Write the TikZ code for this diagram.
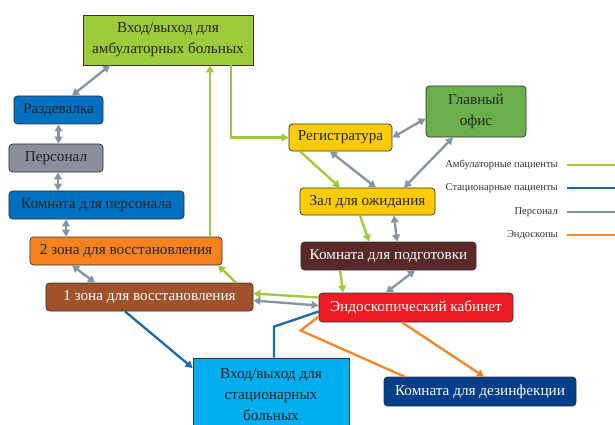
\documentclass[tikz,border=0pt]{standalone}
\usepackage{fontspec}
\setmainfont{Liberation Serif}
\usepackage{tikz}
\usetikzlibrary{arrows.meta, calc}
\definecolor{kamb}{HTML}{9DCB3A}
\definecolor{koffice}{HTML}{6AAF4A}
\definecolor{kblue}{HTML}{0070C0}
\definecolor{kgraybox}{HTML}{8A8E9C}
\definecolor{korange}{HTML}{F5821F}
\definecolor{kbrown}{HTML}{A0522D}
\definecolor{kcyan}{HTML}{00AEEF}
\definecolor{kyellow}{HTML}{FFCC00}
\definecolor{kdarkbrown}{HTML}{5A2828}
\definecolor{kred}{HTML}{ED1C24}
\definecolor{knavy}{HTML}{003E8A}
\definecolor{kgray}{HTML}{8496A2}
\definecolor{kstat}{HTML}{1B6CA2}
\definecolor{kendo}{HTML}{F7862A}

\tikzset{
  box/.style={draw=black!80, line width=0.6pt, rounded corners=3pt, align=center,
    inner sep=0pt, font=\fontsize{13}{18}\selectfont, text=black!85},
  gate/.style={box, rounded corners=0pt},
  lighttext/.style={text=white},
  persline/.style={draw=kgray, line width=2pt,
    {Triangle[length=6pt,width=6.5pt]}-{Triangle[length=6pt,width=6.5pt]}},
  ambline/.style={draw=kamb, line width=2pt, -{Triangle[length=6pt,width=6.5pt]}},
  statline/.style={draw=kstat, line width=2pt},
  endoline/.style={draw=kendo, line width=2pt},
  legtext/.style={anchor=east, inner sep=0pt, font=\fontsize{9}{10}\selectfont, text=black!80}
}

\begin{document}
\begin{tikzpicture}[x=0.03cm, y=-0.03cm]
\useasboundingbox (0,0) rectangle (615,425);
\node[gate, fill=kamb, minimum width=5.10cm, minimum height=1.50cm] (entA) at (168,40)
  {Вход/выход для\\амбулаторных больных};
\node[box, fill=kblue, minimum width=2.67cm, minimum height=0.84cm] (razd) at (58.5,110) {Раздевалка};
\node[box, fill=kgraybox, minimum width=2.82cm, minimum height=0.84cm] (pers) at (56,158) {Персонал};
\node[box, fill=kblue, minimum width=5.25cm, minimum height=0.84cm] (kper) at (96.5,205) {Комната для персонала};
\node[box, fill=korange, minimum width=5.76cm, minimum height=0.84cm] (zone2) at (126,251) {2 зона для восстановления};
\node[box, fill=kbrown, lighttext, minimum width=6.21cm, minimum height=0.84cm] (zone1) at (149.5,297) {1 зона для восстановления};
\node[gate, fill=kcyan, minimum width=4.68cm, minimum height=2.19cm] (entS) at (271,394.5)
  {Вход/выход для\\стационарных\\больных};
\node[box, fill=kyellow, minimum width=3.09cm, minimum height=0.81cm] (reg) at (340.5,137.5) {Регистратура};
\node[box, fill=koffice, minimum width=3.00cm, minimum height=1.53cm] (office) at (476,111.5) {Главный\\офис};
\node[box, fill=kyellow, minimum width=4.05cm, minimum height=0.81cm] (zal) at (367.5,201.5) {Зал для ожидания};
\node[box, fill=kdarkbrown, lighttext, minimum width=5.25cm, minimum height=0.84cm] (prep) at (388.5,256) {Комната для подготовки};
\node[box, fill=kred, lighttext, minimum width=5.82cm, minimum height=0.87cm] (endo) at (416,307.5) {Эндоскопический кабинет};
\node[box, fill=knavy, lighttext, minimum width=5.76cm, minimum height=0.87cm] (dez) at (480,391.5) {Комната для дезинфекции};

\node[legtext] (lgamb) at (558,165) {Амбулаторные пациенты};
\node[legtext] (lgstat) at (558,188) {Стационарные пациенты};
\node[legtext] (lgpers) at (558,212) {Персонал};
\node[legtext] (lgendo) at (558,235) {Эндоскопы};
\draw[kamb, line width=2.5pt] ($(lgamb.east)+(9,0)$) -- ++(48,0);
\draw[kstat, line width=2.5pt] ($(lgstat.east)+(9,0)$) -- ++(48,0);
\draw[kgray, line width=2.5pt] ($(lgpers.east)+(9,0)$) -- ++(48,0);
\draw[kendo, line width=2.5pt] ($(lgendo.east)+(9,0)$) -- ++(48,0);

\draw[persline] ($(entA.south)+(-58,0)$) -- ($(razd.north)+(13.5,0)$);
\draw[persline] (razd.south) -- (razd.south |- pers.north);
\draw[persline] ($(pers.south)+(2,0)$) -- ($(kper.north)+(-38.5,0)$);
\draw[persline] ($(kper.south)+(-30.5,0)$) -- ($(zone2.north)+(-60,0)$);
\draw[persline] ($(zone2.south)+(-54,0)$) -- ($(zone1.north)+(-54.5,0)$);
\draw[ambline] ($(zone1.north)+(86.5,0)$) -- ($(zone2.south)+(92,0)$);
\draw[ambline] ($(zone2.north)+(84,0)$) -- ($(entA.south)+(42,0)$);
\draw[ambline] ($(entA.south)+(63,0)$) |- (reg.west);
\draw[persline] (reg.east) -- ($(office.west)+(0,7)$);
\draw[persline] ($(reg.south)+(-10.5,0)$) -- ($(zal.north)+(8.5,0)$);
\draw[ambline] ($(reg.south)+(-40.5,0)$) -- ($(zal.north)+(-27.5,0)$);
\draw[persline] ($(office.south)+(-23,0)$) -- ($(zal.north)+(36.5,0)$);
\draw[ambline] ($(zal.south)+(-7.5,0)$) -- ($(prep.north)+(-19.5,0)$);
\draw[persline] ($(zal.south)+(26.5,0)$) -- ($(prep.north)+(8.5,0)$);
\draw[ambline] ($(prep.south)+(-48.5,0)$) -- ($(endo.north)+(-73,0)$);
\draw[persline] ($(prep.south)+(26.5,0)$) -- ($(endo.north)+(-30,0)$);
\draw[ambline] ($(endo.west)+(0,-10)$) -- ($(zone1.east)+(0,-3.5)$);
\draw[persline] ($(endo.west)+(0,-2)$) -- ($(zone1.east)+(0,3.5)$);
\draw[statline, -{Triangle[length=6pt,width=6.5pt]}] ($(zone1.south)+(-24.5,0)$) -- ($(entS.west)+(0,-26.5)$);
\draw[statline] ($(entS.north)+(3,0)$) -- ++(0,-31) -- ($(endo.west)+(0,4)$);
\draw[endoline] ($(endo.west)+(0,9)$) -- ++(-18,14) -- ($(dez.north west)+(21,0)$);
\draw[endoline, -{Triangle[length=6pt,width=6.5pt]}] ($(endo.south)+(-14,0)$) -- ($(dez.north)+(4,0)$);
\end{tikzpicture}
\end{document}
